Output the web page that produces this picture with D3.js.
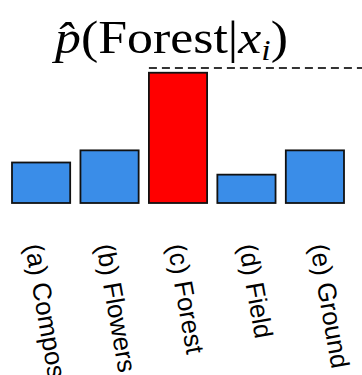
<!DOCTYPE html>
<html>
<head>
<meta charset="utf-8">
<script src="https://cdn.jsdelivr.net/npm/d3@7"></script>
<style>
  body { margin: 0; background: #fff; }
</style>
</head>
<body>
<div id="chart"></div>
<script>
// data
var categories = ["(a) Compost", "(b) Flowers", "(c) Forest", "(d) Field", "(e) Ground"];
var probs = [0.30, 0.39, 0.965, 0.21, 0.39];
var highlight = "(c) Forest";
var refLine = 1.0;

var width = 362, height = 375;

var svg = d3.select("#chart")
  .append("svg")
    .attr("width", width)
    .attr("height", height);

// x scale for the bars
var x = d3.scaleBand()
  .domain(categories)
  .range([12, 344])
  .paddingInner(0.15)
  .paddingOuter(0);

// labels are spread a little wider than the bars
var xl = d3.scalePoint()
  .domain(categories)
  .range([34, 319]);

var y = d3.scaleLinear()
  .domain([0, 1])
  .range([203, 68]);

// bars
svg.append("g")
  .selectAll("rect")
  .data(categories)
  .enter()
  .append("rect")
    .attr("x", function(d) { return x(d); })
    .attr("y", function(d, i) { return y(probs[i]); })
    .attr("width", x.bandwidth())
    .attr("height", function(d, i) { return y(0) - y(probs[i]); })
    .attr("fill", function(d) { return d === highlight ? "#ff0000" : "#3a8de8"; })
    .attr("stroke", "#111")
    .attr("stroke-width", 1.8);

// dashed reference line from the highlighted bar to the right edge
svg.append("line")
  .attr("x1", x(highlight))
  .attr("x2", width)
  .attr("y1", y(refLine))
  .attr("y2", y(refLine))
  .attr("stroke", "#333")
  .attr("stroke-width", 2)
  .attr("stroke-dasharray", "8,5");

// title  p^(Forest|x_i)
var title = svg.append("text")
  .attr("x", 0)
  .attr("y", 0)
  .style("font-family", "'Liberation Serif', 'DejaVu Serif', serif")
  .style("font-size", "46px")
  .attr("fill", "#000");
title.append("tspan").style("font-style", "italic").text("p\u0302");
title.append("tspan").text("(Forest|");
title.append("tspan").style("font-style", "italic").text("x");
title.append("tspan").style("font-style", "italic").style("font-size", "30px").attr("dy", 7).text("i");
title.append("tspan").attr("dy", -7).text(")");

// stretch title to the span it takes in the picture
var tw = title.node().getComputedTextLength();
var sx = (288 - 55) / tw;
title.attr("transform", "translate(55,53) scale(" + sx + ",1)");

// rotated category labels
svg.append("g")
  .selectAll("text")
  .data(categories)
  .enter()
  .append("text")
    .attr("transform", function(d) { return "translate(" + xl(d) + ",244) rotate(80)"; })
    .attr("text-anchor", "start")
    .attr("dy", "0.35em")
    .style("font-family", "'Liberation Sans', Arial, sans-serif")
    .style("font-size", "26px")
    .attr("fill", "#000")
    .text(function(d) { return d; });
</script>
</body>
</html>
